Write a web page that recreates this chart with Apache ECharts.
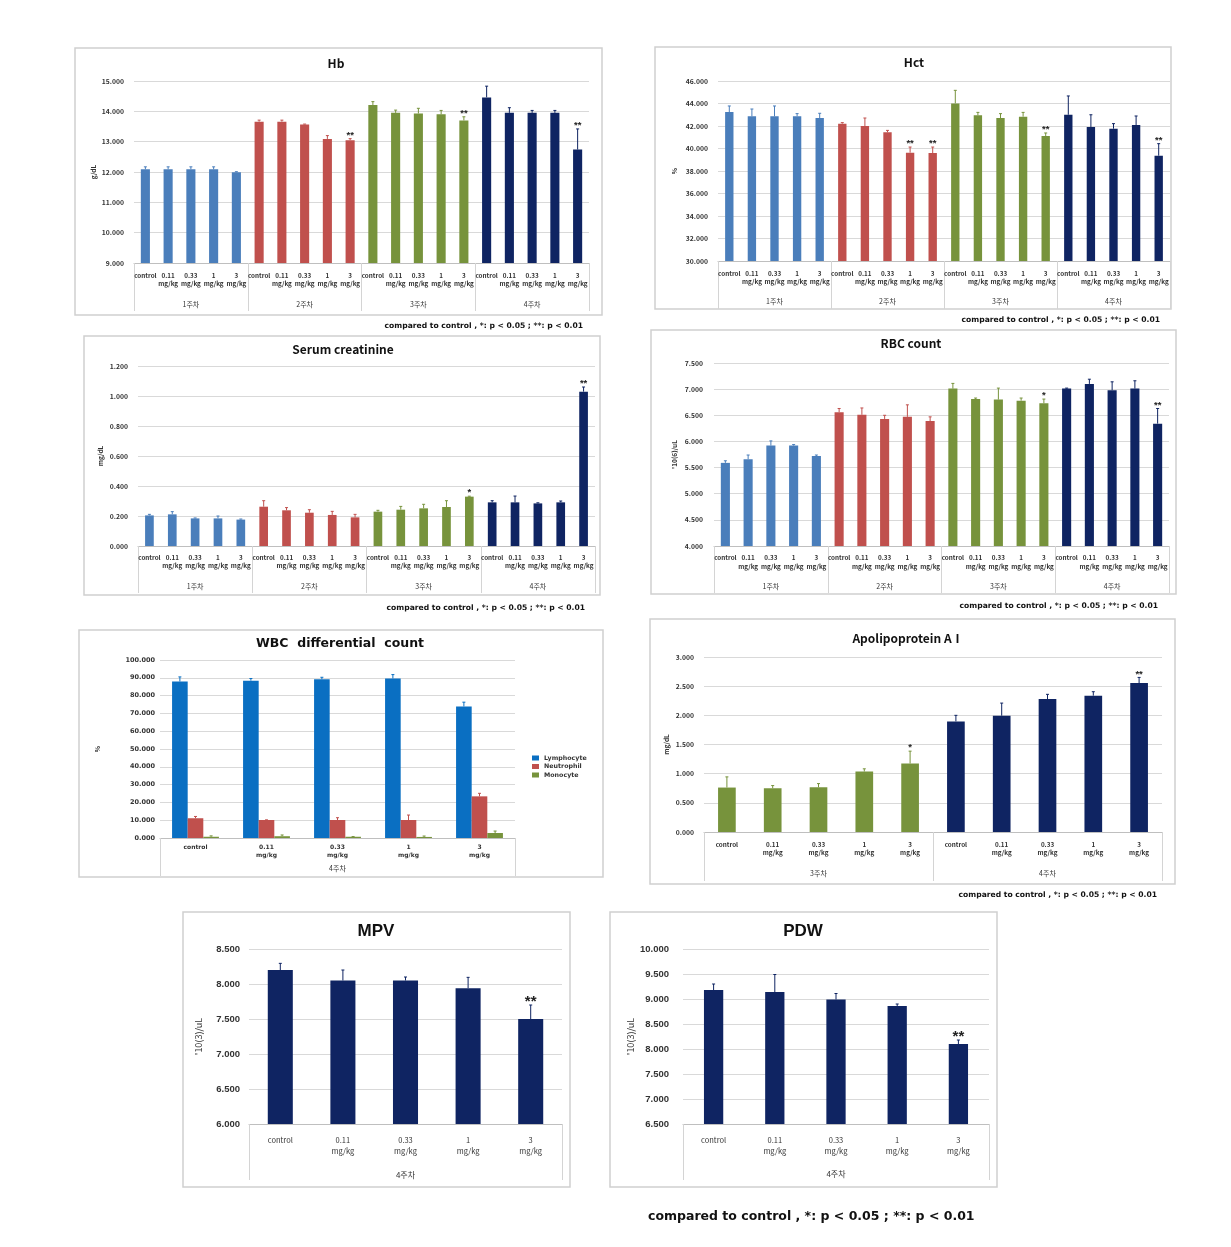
<!DOCTYPE html>
<html><head><meta charset="utf-8">
<script src="https://cdn.jsdelivr.net/npm/echarts@6/dist/echarts.min.js"></script>
<style>html,body{margin:0;padding:0;background:#fff}#c{width:1231px;height:1247px}</style>
</head><body><div id="c"></div>
<script>
// ---------------- DATA ----------------
const doseLabels = ['control', '0.11\nmg/kg', '0.33\nmg/kg', '1\nmg/kg', '3\nmg/kg'];
const weekLabels = ['1주차', '2주차', '3주차', '4주차'];
const apoWeeks = ['3주차', '4주차'];
const lastWeek = ['4주차'];

const hbValues = [12.09, 12.09, 12.09, 12.09, 11.99, 13.66, 13.66, 13.57, 13.09, 13.05, 14.21, 13.95, 13.93, 13.90, 13.70, 14.46, 13.95, 13.95, 13.95, 12.74];
const hbErrors = [0.08, 0.08, 0.08, 0.08, 0.02, 0.05, 0.05, 0.01, 0.11, 0.05, 0.11, 0.09, 0.17, 0.13, 0.12, 0.37, 0.17, 0.08, 0.08, 0.68];
const hbSig = ['', '', '', '', '', '', '', '', '', '**', '', '', '', '', '**', '', '', '', '', '**'];

const hctValues = [43.24, 42.86, 42.86, 42.86, 42.71, 42.21, 42.00, 41.44, 39.63, 39.60, 44.01, 42.95, 42.71, 42.83, 41.11, 43.00, 41.91, 41.76, 42.09, 39.36];
const hctErrors = [0.54, 0.65, 0.92, 0.24, 0.42, 0.09, 0.71, 0.17, 0.50, 0.53, 1.16, 0.26, 0.39, 0.38, 0.27, 1.67, 1.09, 0.45, 0.80, 1.07];
const hctSig = ['', '', '', '', '', '', '', '', '**', '**', '', '', '', '', '**', '', '', '', '', '**'];

const creValues = [0.204, 0.211, 0.184, 0.184, 0.176, 0.262, 0.238, 0.222, 0.207, 0.191, 0.229, 0.242, 0.251, 0.260, 0.329, 0.291, 0.291, 0.284, 0.291, 1.029];
const creErrors = [0.007, 0.018, 0.003, 0.016, 0.004, 0.040, 0.018, 0.020, 0.024, 0.020, 0.009, 0.022, 0.027, 0.042, 0.003, 0.011, 0.042, 0.004, 0.009, 0.031];
const creSig = ['', '', '', '', '', '', '', '', '', '', '', '', '', '', '*', '', '', '', '', '**'];

const rbcValues = [5.59, 5.66, 5.92, 5.92, 5.72, 6.56, 6.51, 6.43, 6.47, 6.39, 7.01, 6.81, 6.80, 6.78, 6.73, 7.01, 7.10, 6.98, 7.01, 6.34];
const rbcErrors = [0.04, 0.08, 0.09, 0.02, 0.02, 0.07, 0.13, 0.07, 0.23, 0.08, 0.10, 0.02, 0.22, 0.05, 0.08, 0.01, 0.09, 0.16, 0.15, 0.29];
const rbcSig = ['', '', '', '', '', '', '', '', '', '', '', '', '', '', '*', '', '', '', '', '**'];

const wbcSeriesNames = ['Lymphocyte', 'Neutrophil', 'Monocyte'];
const lymphValues = [87.9, 88.4, 89.2, 89.6, 73.9];
const lymphErrors = [2.6, 1.2, 1.1, 2.2, 2.4];
const neutroValues = [11.1, 10.1, 10.1, 10.1, 23.4];
const neutroErrors = [1.0, 0.1, 1.3, 2.8, 1.7];
const monoValues = [0.7, 1.0, 0.7, 0.6, 2.8];
const monoErrors = [0.5, 0.7, 0.1, 0.5, 1.1];

const apoValues = [0.762, 0.750, 0.767, 1.037, 1.174, 1.896, 1.993, 2.280, 2.337, 2.554];
const apoErrors = [0.183, 0.046, 0.063, 0.046, 0.212, 0.104, 0.217, 0.080, 0.068, 0.096];
const apoSig = ['', '', '', '', '*', '', '', '', '', '**'];

const mpvValues = [8.20, 8.05, 8.05, 7.94, 7.50];
const mpvErrors = [0.095, 0.15, 0.05, 0.155, 0.20];
const mpvSig = ['', '', '', '', '**'];

const pdwValues = [9.18, 9.14, 8.99, 8.86, 8.10];
const pdwErrors = [0.12, 0.35, 0.12, 0.04, 0.08];
const pdwSig = ['', '', '', '', '**'];

const noteText = 'compared to control , *: p < 0.05 ; **: p < 0.01';

// ---------------- STYLE / LAYOUT ----------------
const BLUE = '#4a7ebb', RED = '#c0504d', GREEN = '#77933c', NAVY = '#0f2462';
const WBC_COLORS = ['#0a6fc2', '#c0504d', '#77933c'];
const KR = '"Noto Sans CJK KR","Noto Sans",sans-serif';
const AR = '"Liberation Sans",Arial,sans-serif';
const DV = '"DejaVu Sans",Verdana,sans-serif';

const repeatCats = (groups) => groups.flatMap(() => doseLabels);

const panels = [
  {title: 'Hb', vals: hbValues, errs: hbErrors, sig: hbSig, groups: weekLabels, colors: [BLUE, RED, GREEN, NAVY],
   box: [134, 81, 455, 182], min: 9, max: 15, interval: 1, yName: 'g/dL', nameGap: 37, labelMargin: 10,
   barWidth: '40%', tickLen: 48, catMargin: 8, groupMargin: 38, titlePos: [336, 63], note: [583, 326],
   frame: [75, 48, 527, 267]},
  {title: 'Hct', vals: hctValues, errs: hctErrors, sig: hctSig, groups: weekLabels, colors: [BLUE, RED, GREEN, NAVY],
   box: [718, 81, 452, 180], min: 30, max: 46, interval: 2, yName: '%', nameGap: 40, labelMargin: 10,
   barWidth: '37%', tickLen: 48, catMargin: 8, groupMargin: 37, titlePos: [914, 62], note: [1160, 320],
   frame: [655, 47, 516, 262]},
  {title: 'Serum creatinine', vals: creValues, errs: creErrors, sig: creSig, groups: weekLabels, colors: [BLUE, RED, GREEN, NAVY],
   box: [138, 366, 457, 180], min: 0, max: 1.2, interval: 0.2, yName: 'mg/dL', nameGap: 34, labelMargin: 10,
   barWidth: '38%', tickLen: 47, catMargin: 7, groupMargin: 37, titlePos: [343, 349], note: [585, 608],
   frame: [84, 336, 516, 259]},
  {title: 'RBC count', vals: rbcValues, errs: rbcErrors, sig: rbcSig, groups: weekLabels, colors: [BLUE, RED, GREEN, NAVY],
   box: [714, 363, 455, 183], min: 4, max: 7.5, interval: 0.5, yName: "'10(6)/uL", nameGap: 36, labelMargin: 11,
   barWidth: '40%', tickLen: 47, catMargin: 7.5, groupMargin: 36.5, titlePos: [911, 343], note: [1158, 606],
   frame: [651, 330, 525, 264]},
  {title: 'Apolipoprotein AⅠ', vals: apoValues, errs: apoErrors, sig: apoSig, groups: apoWeeks, colors: [GREEN, NAVY],
   box: [704, 657, 458, 175], min: 0, max: 3, interval: 0.5, yName: 'mg/dL', nameGap: 34, labelMargin: 10,
   barWidth: '38.6%', tickLen: 49, catMargin: 8, groupMargin: 37.5, titlePos: [908, 638], note: [1157, 895],
   frame: [650, 619, 525, 265]},
  {title: 'MPV', big: true, vals: mpvValues, errs: mpvErrors, sig: mpvSig, groups: lastWeek, colors: [NAVY],
   box: [249, 949, 313, 175], min: 6, max: 8.5, interval: 0.5, yName: "'10(3)/uL", nameGap: 46, labelMargin: 9,
   barWidth: '40%', tickLen: 56, catMargin: 11, groupMargin: 47, titlePos: [376, 931],
   frame: [183, 912, 387, 275]},
  {title: 'PDW', big: true, vals: pdwValues, errs: pdwErrors, sig: pdwSig, groups: lastWeek, colors: [NAVY],
   box: [683, 949, 306, 175], min: 6.5, max: 10, interval: 0.5, yName: "'10(3)/uL", nameGap: 48, labelMargin: 14,
   barWidth: '31.5%', tickLen: 56, catMargin: 11, groupMargin: 46, titlePos: [803, 931],
   frame: [610, 912, 387, 275]}
];

const grids = [], xAxes = [], yAxes = [], series = [], gfx = [];

function errSeries(gi, vals, errs, sig, colorOf, off, starFont, starGap) {
  return {
    type: 'custom', xAxisIndex: 2 * gi, yAxisIndex: gi, z: 5, silent: true, clip: false,
    data: vals.map((v, i) => [i, v, errs[i]]),
    encode: {x: 0, y: 1},
    renderItem: (params, api) => {
      const i = api.value(0), v = api.value(1), e = api.value(2);
      const bw = api.size([1, 0])[0];
      const b = api.coord([i, v]);
      const t = api.coord([i, v + e]);
      const x = b[0] + off * bw;
      const col = colorOf(params.dataIndex);
      const ch = [
        {type: 'line', shape: {x1: x, y1: b[1], x2: x, y2: t[1]}, style: {stroke: col, lineWidth: 1}},
        {type: 'line', shape: {x1: x - 1.5, y1: t[1], x2: x + 1.5, y2: t[1]}, style: {stroke: col, lineWidth: 1}}
      ];
      const s = sig ? sig[params.dataIndex] : '';
      if (s) ch.push({type: 'text', style: {text: s, x: x, y: t[1] - starGap, textAlign: 'center', textVerticalAlign: 'middle', font: starFont, fill: '#222'}});
      return {type: 'group', children: ch};
    }
  };
}

function addAxes(gi, p, cats, opts) {
  grids.push({left: p.box[0], top: p.box[1], width: p.box[2], height: p.box[3]});
  xAxes.push({
    type: 'category', gridIndex: gi, data: cats, position: 'bottom',
    axisLine: {show: true, lineStyle: {color: '#bfbfbf', width: 1}},
    axisTick: {show: false},
    axisLabel: {interval: 0, fontSize: opts.catFs, lineHeight: opts.catLh, color: '#333', fontFamily: opts.catFont, fontWeight: opts.catWeight || 'normal', margin: p.catMargin}
  });
  xAxes.push({
    type: 'category', gridIndex: gi, data: p.groups, position: 'bottom',
    axisLine: {show: false},
    axisTick: {show: true, interval: 0, length: p.tickLen, lineStyle: {color: '#d4d4d4', width: 1}},
    axisLabel: {interval: 0, fontSize: opts.grpFs, color: '#333', fontFamily: KR, margin: p.groupMargin},
    splitLine: {show: false}
  });
  yAxes.push({
    type: 'value', gridIndex: gi, min: p.min, max: p.max, interval: p.interval,
    axisLine: {show: false}, axisTick: {show: false},
    splitLine: {lineStyle: {color: '#d9d9d9', width: 1}},
    axisLabel: {formatter: (v) => v.toFixed(3), fontSize: opts.yFs, fontWeight: 'bold', color: '#333', fontFamily: opts.yFont, margin: p.labelMargin},
    name: p.yName, nameLocation: 'middle', nameRotate: 90, nameGap: p.nameGap,
    nameTextStyle: {fontSize: opts.nameFs, color: '#333', fontFamily: KR, fontWeight: opts.big ? 'normal' : 'bold'}
  });
  gfx.push({type: 'rect', z: 0, shape: {x: p.frame[0], y: p.frame[1], width: p.frame[2], height: p.frame[3]},
            style: {fill: 'none', stroke: '#d0d0d0', lineWidth: 1.5}});
}

panels.forEach((p, gi) => {
  const big = !!p.big;
  const cats = p.groups.length > 1 ? repeatCats(p.groups) : doseLabels;
  addAxes(gi, p, cats, big
    ? {catFs: 7.5, catLh: 11, catFont: KR, grpFs: 8, yFs: 9.5, yFont: AR, nameFs: 9, big: true}
    : {catFs: 6.3, catLh: 8.5, catFont: KR, catWeight: 'bold', grpFs: 7, yFs: 6.8, yFont: KR, nameFs: 6.5});
  const colorOf = (i) => p.colors[Math.floor(i / 5)];
  series.push({
    type: 'bar', xAxisIndex: 2 * gi, yAxisIndex: gi, barWidth: p.barWidth, silent: true,
    data: p.vals,
    itemStyle: {color: (params) => colorOf(params.dataIndex)}
  });
  series.push(errSeries(gi, p.vals, p.errs, p.sig, colorOf, 0,
    big ? 'bold 15px ' + AR : 'bold 9.5px ' + AR, big ? 3 : 3.5));
  gfx.push({type: 'text', z: 10, style: {text: p.title, x: p.titlePos[0], y: p.titlePos[1], textAlign: 'center', textVerticalAlign: 'middle',
            font: big ? 'bold 17px ' + AR : 'bold 12px ' + KR, fill: '#111'}});
  if (p.note) {
    gfx.push({type: 'text', z: 10, style: {text: noteText, x: p.note[0], y: p.note[1], textAlign: 'right', textVerticalAlign: 'middle',
              font: 'bold 7.6px ' + DV, fill: '#111'}});
  }
});

// WBC differential count panel (grouped bars)
(function () {
  const gi = panels.length;
  const p = {box: [160, 660, 355, 178], groups: lastWeek, min: 0, max: 100, interval: 10, yName: '%', nameGap: 59,
             labelMargin: 5, tickLen: 38, catMargin: 5, groupMargin: 27, frame: [79, 630, 524, 247]};
  addAxes(gi, p, doseLabels, {catFs: 6, catLh: 8, catFont: DV, catWeight: 'bold', grpFs: 7, yFs: 6.5, yFont: DV, nameFs: 6.5});
  const vals = [lymphValues, neutroValues, monoValues];
  const errs = [lymphErrors, neutroErrors, monoErrors];
  const offs = [-0.22, 0, 0.22];
  wbcSeriesNames.forEach((nm, k) => {
    series.push({type: 'bar', name: nm, xAxisIndex: 2 * gi, yAxisIndex: gi, barWidth: '22%', barGap: '0%', silent: true,
                 data: vals[k], itemStyle: {color: WBC_COLORS[k]}});
  });
  wbcSeriesNames.forEach((nm, k) => {
    series.push(errSeries(gi, vals[k], errs[k], null, () => WBC_COLORS[k], offs[k], '', 0));
  });
  gfx.push({type: 'text', z: 10, style: {text: 'WBC  differential  count', x: 340, y: 644, textAlign: 'center', textVerticalAlign: 'middle',
            font: 'bold 12.5px ' + DV, fill: '#111'}});
})();

gfx.push({type: 'text', z: 10, style: {text: noteText, x: 648, y: 1217, textAlign: 'left', textVerticalAlign: 'middle',
          font: 'bold 12.5px ' + DV, fill: '#111'}});

const chart = echarts.init(document.getElementById('c'), null, {renderer: 'canvas'});
chart.setOption({
  backgroundColor: '#ffffff',
  animation: false,
  grid: grids,
  xAxis: xAxes,
  yAxis: yAxes,
  legend: {data: wbcSeriesNames, orient: 'vertical', left: 527, top: 750, itemWidth: 7, itemHeight: 5, itemGap: 2.5, icon: 'rect',
           selectedMode: false, textStyle: {fontSize: 6.3, fontWeight: 'bold', fontFamily: DV, color: '#333'}},
  graphic: {elements: gfx},
  series: series
});
</script>
</body></html>
